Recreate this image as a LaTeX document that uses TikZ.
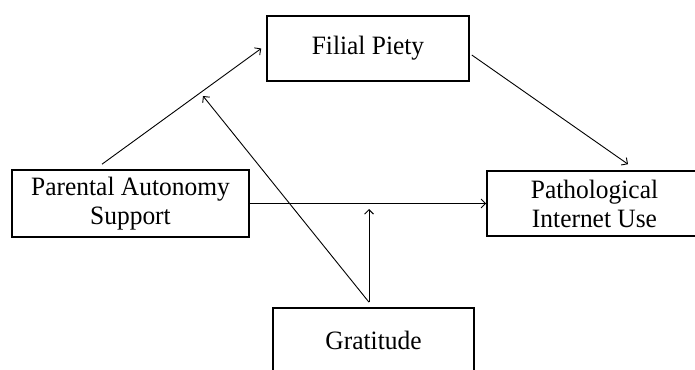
\documentclass[tikz,border=0pt]{standalone}
\usepackage{fontspec}
\setmainfont[FakeStretch=0.96]{Liberation Serif}
\usepackage{tikz}
\usetikzlibrary{arrows.meta}

\tikzset{
    varbox/.style={draw, line width=1.6pt, align=center, inner sep=0pt,
        font=\fontsize{26.5}{29}\selectfont},
    path/.style={-{Straight Barb[length=4.5pt, width=9pt]}, line width=0.9pt}
}

\begin{document}
\begin{tikzpicture}[x=1pt, y=-1pt]
    \useasboundingbox (0,0) rectangle (695,369);

    % Draw the variables
    \node[varbox, minimum width=237pt, minimum height=67pt] (pas) at (130.5,203.5)
        {Parental Autonomy\\Support};
    \node[varbox, minimum width=202pt, minimum height=65pt] (filial) at (368,48.5)
        {Filial Piety};
    \node[varbox, minimum width=215pt, minimum height=65pt] (piu) at (594.5,203.5)
        {Pathological\\Internet Use};
    \node[varbox, minimum width=201pt, minimum height=65pt] (grat) at (373.5,340.5)
        {Gratitude};

    % Points where the moderation paths end
    \coordinate (gbase) at ([xshift=-4.5pt, yshift=5pt]grat.north);
    \coordinate (mod1) at (203,96);
    \coordinate (mod2) at (369,209);

    % Mediation paths
    \draw[path] ([xshift=-28.5pt, yshift=5pt]pas.north) -- ([xshift=-5pt]filial.west);
    \draw[path] ([xshift=2pt, yshift=-6.5pt]filial.east) -- ([xshift=33.5pt, yshift=6pt]piu.north);
    \draw[path] (pas.east) -- (piu.west);

    % Moderation paths
    \draw[path] (gbase) -- (mod1);
    \draw[path] (gbase) -- (mod2);

\end{tikzpicture}
\end{document}
